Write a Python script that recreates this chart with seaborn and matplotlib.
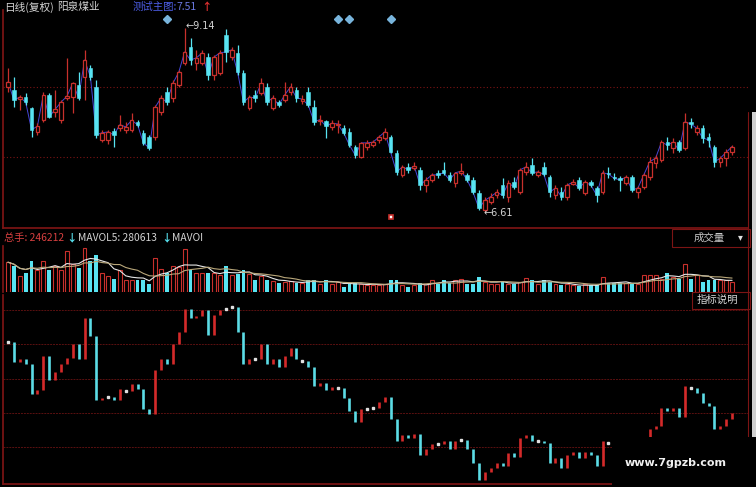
import numpy as np
import pandas as pd
import matplotlib
matplotlib.use("Agg")
import matplotlib.pyplot as plt
import seaborn as sns
from matplotlib.patches import Rectangle
from matplotlib.lines import Line2D

# daily bars (yuan)
open_ = [8.33, 8.29, 8.17, 8.19, 8.04, 7.71, 7.87, 8.22, 7.98, 7.87,
         8.18, 8.19, 8.36, 8.47, 8.59, 8.33, 7.60, 7.60, 7.72, 7.76,
         7.74, 7.74, 7.85, 7.70, 7.64, 7.64, 7.98, 8.26, 8.18, 8.36,
         8.66, 8.88, 8.66, 8.66, 8.74, 8.49, 8.52, 9.04, 8.74, 8.80,
         8.52, 8.04, 8.22, 8.25, 8.33, 8.04, 8.12, 8.15, 8.26, 8.29,
         8.14, 8.26, 8.05, 7.86, 7.86, 7.78, 7.80, 7.76, 7.71, 7.50,
         7.37, 7.50, 7.53, 7.60, 7.63, 7.64, 7.42, 7.12, 7.23, 7.22,
         7.19, 6.98, 7.05, 7.15, 7.19, 7.12, 7.01, 7.15, 7.12, 7.05,
         6.87, 6.64, 6.75, 6.84, 6.98, 6.82, 7.02, 6.88, 7.16, 7.26,
         7.12, 7.23, 7.09, 6.84, 6.88, 6.82, 7.00, 7.05, 6.87, 7.02,
         6.94, 6.88, 7.15, 7.09, 7.08, 7.01, 7.09, 6.88, 6.95, 7.09,
         7.28, 7.32, 7.57, 7.49, 7.57, 7.49, 7.85, 7.71, 7.76, 7.64,
         7.50, 7.30, 7.35, 7.43]
high = [8.59, 8.47, 8.22, 8.24, 8.06, 7.83, 8.26, 8.25, 8.29, 8.15,
        8.73, 8.40, 8.53, 8.84, 8.63, 8.42, 7.74, 7.74, 7.76, 7.94,
        7.85, 7.97, 7.88, 7.74, 7.67, 8.08, 8.22, 8.33, 8.42, 8.56,
        9.14, 9.00, 8.84, 8.84, 8.80, 8.77, 8.84, 9.12, 8.88, 8.91,
        8.56, 8.22, 8.29, 8.45, 8.38, 8.22, 8.15, 8.40, 8.38, 8.33,
        8.22, 8.33, 8.15, 7.94, 7.88, 7.88, 7.87, 7.81, 7.76, 7.53,
        7.57, 7.60, 7.60, 7.67, 7.76, 7.67, 7.46, 7.26, 7.28, 7.30,
        7.23, 7.09, 7.15, 7.19, 7.30, 7.16, 7.16, 7.28, 7.15, 7.09,
        6.91, 6.82, 6.87, 6.92, 7.08, 7.05, 7.09, 7.22, 7.30, 7.35,
        7.19, 7.30, 7.12, 6.98, 6.95, 7.01, 7.06, 7.09, 7.05, 7.05,
        6.96, 7.19, 7.23, 7.15, 7.10, 7.12, 7.12, 6.96, 7.15, 7.37,
        7.40, 7.60, 7.64, 7.63, 7.60, 7.97, 7.90, 7.81, 7.81, 7.70,
        7.53, 7.38, 7.47, 7.53]
low = [8.26, 8.05, 8.01, 8.08, 7.64, 7.67, 7.85, 7.90, 7.92, 7.84,
       8.15, 7.97, 8.15, 8.15, 8.42, 7.63, 7.57, 7.55, 7.50, 7.72,
       7.70, 7.71, 7.78, 7.53, 7.46, 7.60, 7.94, 8.08, 8.12, 8.33,
       8.63, 8.63, 8.56, 8.63, 8.42, 8.42, 8.49, 8.67, 8.70, 8.49,
       8.08, 8.01, 8.12, 8.22, 8.08, 8.01, 8.05, 8.12, 8.22, 8.12,
       8.10, 8.05, 7.80, 7.81, 7.63, 7.74, 7.70, 7.67, 7.50, 7.35,
       7.35, 7.46, 7.50, 7.56, 7.60, 7.42, 7.12, 7.09, 7.15, 7.19,
       6.91, 6.88, 7.02, 7.08, 7.12, 7.02, 6.95, 7.12, 7.02, 6.85,
       6.63, 6.61, 6.72, 6.80, 6.80, 6.75, 6.92, 6.85, 7.12, 7.12,
       7.09, 7.10, 6.81, 6.79, 6.78, 6.78, 6.98, 6.91, 6.84, 6.95,
       6.75, 6.85, 7.08, 7.05, 6.90, 6.98, 6.88, 6.80, 6.92, 7.05,
       7.22, 7.30, 7.46, 7.42, 7.43, 7.46, 7.76, 7.67, 7.56, 7.50,
       7.23, 7.23, 7.24, 7.40]
close = [8.40, 8.15, 8.19, 8.12, 7.74, 7.79, 8.22, 7.92, 8.02, 8.12,
         8.20, 8.38, 8.18, 8.70, 8.47, 7.67, 7.70, 7.71, 7.67, 7.81,
         7.78, 7.87, 7.81, 7.56, 7.49, 8.05, 8.18, 8.12, 8.38, 8.53,
         8.81, 8.70, 8.73, 8.80, 8.49, 8.74, 8.80, 8.81, 8.84, 8.53,
         8.12, 8.19, 8.18, 8.38, 8.12, 8.18, 8.08, 8.22, 8.33, 8.18,
         8.16, 8.08, 7.85, 7.88, 7.79, 7.83, 7.82, 7.70, 7.53, 7.39,
         7.56, 7.56, 7.57, 7.64, 7.71, 7.43, 7.16, 7.23, 7.19, 7.24,
         6.98, 7.05, 7.12, 7.12, 7.15, 7.05, 7.15, 7.17, 7.05, 6.88,
         6.66, 6.77, 6.82, 6.88, 6.84, 7.01, 6.95, 7.19, 7.23, 7.15,
         7.16, 7.13, 6.88, 6.94, 6.82, 6.98, 7.02, 6.94, 7.02, 6.98,
         6.84, 7.15, 7.13, 7.07, 7.05, 7.09, 6.91, 6.94, 7.12, 7.30,
         7.35, 7.57, 7.53, 7.57, 7.46, 7.85, 7.82, 7.76, 7.63, 7.60,
         7.30, 7.35, 7.43, 7.51]
# volume in hands
volume = [738000, 639600, 385400, 467400, 762600, 533000, 779000, 533000, 656000, 549400,
          1008600, 697000, 598600, 1090600, 762600, 926600, 467400, 385400, 328000, 533000,
          287000, 303400, 303400, 303400, 188600, 844600, 574000, 467400, 639600, 615000,
          1066000, 549400, 467400, 467400, 467400, 467400, 410000, 639600, 410000, 451000,
          549400, 434600, 287000, 385400, 303400, 270600, 221400, 246000, 270600, 221400,
          221400, 303400, 303400, 205000, 287000, 205000, 246000, 123000, 205000, 221400,
          205000, 164000, 164000, 164000, 205000, 303400, 303400, 164000, 123000, 164000,
          221400, 205000, 303400, 205000, 303400, 221400, 303400, 328000, 205000, 205000,
          369000, 246000, 205000, 205000, 270600, 205000, 205000, 246000, 352600, 287000,
          205000, 287000, 246000, 205000, 164000, 188600, 164000, 139400, 188600, 164000,
          164000, 369000, 221400, 221400, 221400, 221400, 205000, 205000, 410000, 410000,
          410000, 328000, 467400, 369000, 328000, 697000, 328000, 410000, 246000, 287000,
          303400, 303400, 303400, 246212]
signal_bars = [27, 56, 58, 65]   # diamond markers above the candles
event_bars = [65]                # small event icon under the candles
price_grid = [8.33, 7.37]

RED = "#c8302c"
CYAN = "#58e4f2"
DARKRED = "#7c1414"
GRIDRED = "#5a1010"
TXT = "#d4d4d4"

df = pd.DataFrame({"bar": np.arange(len(close)), "open": open_, "high": high,
                   "low": low, "close": close, "volume": volume})
df["up"] = df["close"] >= df["open"]
df["ma5"] = df["volume"].rolling(5, min_periods=1).mean()
df["ma10"] = df["volume"].rolling(10, min_periods=1).mean()

sns.set_theme(style="dark", rc={"axes.facecolor": "black", "figure.facecolor": "black"})
plt.rcParams["font.family"] = ["Noto Sans CJK SC", "DejaVu Sans"]

W, H = 756, 487
fig = plt.figure(figsize=(W / 100, H / 100), dpi=100, facecolor="black")


def box(x0, y0, x1, y1):
    return [x0 / W, 1 - y1 / H, (x1 - x0) / W, (y1 - y0) / H]


ax_p = fig.add_axes(box(3, 10, 748, 228))
ax_v = fig.add_axes(box(3, 246, 748, 292))
ax_i = fig.add_axes(box(3, 295, 748, 484))
xlim = (-0.85, 125.7)
for ax in (ax_p, ax_v, ax_i):
    ax.set_facecolor("black")
    ax.set_xlim(*xlim)
    ax.set_xticks([])
    ax.tick_params(length=0, labelleft=False, labelbottom=False)
    for s in ax.spines.values():
        s.set_visible(False)
    ax.spines["left"].set_visible(True)
    ax.spines["left"].set_color(DARKRED)

# ---- price panel
ax_p.set_ylim(6.389, 9.388)
ax_p.set_yticks([])
ax_p.spines["bottom"].set_visible(True)
ax_p.spines["bottom"].set_color(DARKRED)
for g in price_grid:
    ax_p.axhline(g, color=DARKRED, lw=0.8, ls=(0, (1, 2)), zorder=0)

up = df[df["up"]]
dn = df[~df["up"]]
body = (df["close"] - df["open"]).abs().clip(lower=0.012)
sns.lineplot(data=df, x="bar", y="close", ax=ax_p, color="#4646d8", lw=0.7, zorder=1)
ax_p.vlines(df["bar"], df["low"], df["high"],
            colors=np.where(df["up"], RED, CYAN), lw=0.9, zorder=2)
ax_p.bar(up["bar"], body[up.index], bottom=up["open"], width=0.62,
         facecolor="black", edgecolor=RED, lw=0.9, zorder=3)
ax_p.bar(dn["bar"], body[dn.index], bottom=dn["close"], width=0.62,
         color=CYAN, edgecolor=CYAN, lw=0.4, zorder=3)
ax_p.set_xlabel("")
ax_p.set_ylabel("")

ax_p.plot(signal_bars, [0.957] * len(signal_bars), "D", ms=4.2, color="#78b4dc",
          transform=ax_p.get_xaxis_transform(), clip_on=False)
ax_p.plot(event_bars, [0.05] * len(event_bars), "s", ms=3.5, mfc="white", mec=RED,
          mew=1.2, transform=ax_p.get_xaxis_transform())

hi = df["high"].idxmax()
lo = df["low"].idxmin()
ax_p.text(hi + 0.1, df["high"][hi] + 0.03, f"\u2190{df['high'][hi]:.2f}", color=TXT,
          fontsize=7, va="center", ha="left", family=["DejaVu Sans"])
ax_p.text(lo - 0.2, df["low"][lo] - 0.01, f"\u2190{df['low'][lo]:.2f}", color=TXT,
          fontsize=7, va="center", ha="left", family=["DejaVu Sans"])

# ---- volume panel
ax_v.set_ylim(0, 1.14e6)
ax_v.set_yticks([])
vup = df[df["up"]]
vdn = df[~df["up"]]
ax_v.bar(vup["bar"], vup["volume"], width=0.66, facecolor="black", edgecolor=RED, lw=0.8)
ax_v.bar(vdn["bar"], vdn["volume"], width=0.66, color=CYAN, lw=0)
sns.lineplot(data=df, x="bar", y="ma5", ax=ax_v, color="#e6e6e6", lw=0.8)
sns.lineplot(data=df, x="bar", y="ma10", ax=ax_v, color="#b9a77a", lw=0.8)
ax_v.set_xlabel("")
ax_v.set_ylabel("")

# ---- indicator panel (close drawn as steps)
ax_i.set_ylim(6.615, 8.99)
ax_i.set_yticks(np.linspace(7.08, 8.80, 5))
ax_i.grid(axis="y", color=GRIDRED, lw=0.7, ls=(0, (2, 1)))
ax_i.grid(axis="x", visible=False)
ax_i.spines["bottom"].set_visible(True)
ax_i.spines["bottom"].set_color(DARKRED)
prev = df["close"].shift(1).fillna(df["close"])
step = df["close"] - prev
rise = step > 0.03
fall = step < -0.03
flat = ~(rise | fall)
ax_i.vlines(df["bar"][rise], prev[rise], df["close"][rise], colors="#d42a2a", lw=1.9)
ax_i.vlines(df["bar"][fall], prev[fall], df["close"][fall], colors="#5cdce6", lw=1.9)
ax_i.plot(df["bar"][flat], df["close"][flat], "s", ms=2, color="#e0e0e0", lw=0)


# ---- header texts
def ftext(x, y, s, **kw):
    fig.text(x / W, 1 - y / H, s, va="center", ha="left", **kw)


ftext(4, 7, "日线(复权)", color=TXT, fontsize=7.7)
ftext(57, 7, "阳泉煤业", color=TXT, fontsize=7.7)
ftext(133, 7, "测试主图:", color="#4d5ee6", fontsize=7.5)
ftext(176, 7, f"{close[-1]:.2f}", color="#6a78e0", fontsize=7.5)
ftext(201, 7, "\u2191", color="#e03030", fontsize=7.5, fontweight="bold")

ftext(4, 238, f"总手: {volume[-1]}", color="#d84040", fontsize=7.4)
ftext(66, 238, "\u2193", color=CYAN, fontsize=7.5, fontweight="bold")
ftext(78, 238, "MAVOL5: 280613", color=TXT, fontsize=7.4)
ftext(161, 238, "\u2193", color=CYAN, fontsize=7.5, fontweight="bold")
ftext(172, 238, "MAVOI", color=TXT, fontsize=7.4)

fig.add_artist(Rectangle((672 / W, 1 - 247 / H), 78 / W, 18 / H, transform=fig.transFigure,
                         fc="black", ec=DARKRED, lw=0.8))
ftext(694, 238, "成交量", color="#c8c8c8", fontsize=7.5)
ftext(738, 237, "\u25be", color="#e0e0e0", fontsize=7)
fig.add_artist(Rectangle((692 / W, 1 - 309 / H), 58 / W, 17 / H, transform=fig.transFigure,
                         fc="black", ec=DARKRED, lw=0.8))
ftext(697, 300, "指标说明", color="#d8d8d8", fontsize=7.5)

# right border and strip
fig.add_artist(Line2D([748 / W, 748 / W], [1 - 112 / H, 1 - 437 / H], color=DARKRED, lw=0.8))
fig.add_artist(Rectangle((752 / W, 1 - 437 / H), 4 / W, 325 / H, transform=fig.transFigure,
                         fc="#d0d0d0", ec="none"))

# watermark box
fig.add_artist(Rectangle((612 / W, 0), 144 / W, 50 / H, transform=fig.transFigure,
                         fc="black", ec="none", zorder=10))
fig.text(676 / W, 1 - 463 / H, "www.7gpzb.com", color="#f0f0f0", fontsize=8,
         fontweight="bold", ha="center", va="center", zorder=11, family=["DejaVu Sans"])

fig.savefig("out.png", dpi=100, facecolor="black")
